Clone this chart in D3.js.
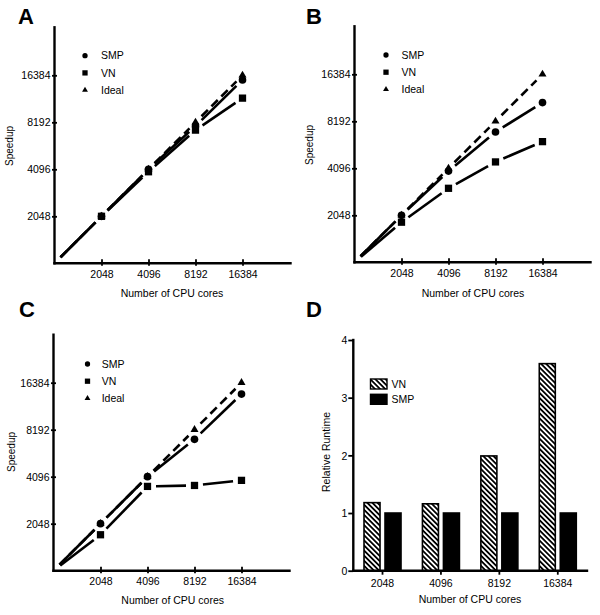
<!DOCTYPE html>
<html>
<head>
<meta charset="utf-8">
<script src="https://cdn.jsdelivr.net/npm/d3@7"></script>
<style>
  html, body { margin: 0; padding: 0; background: #fff; }
  svg { display: block; }
  text { font-family: "Liberation Sans", Arial, sans-serif; fill: #000; }
</style>
</head>
<body>
<svg id="chart" width="600" height="615"></svg>
<script>
// ---------- data ----------
const cores = [1024, 2048, 4096, 8192, 16384];
const tickValues = [2048, 4096, 8192, 16384];
const seriesNames = ["SMP", "VN", "Ideal"];

const idealA = [1024, 2048, 4096, 8192, 16384];
const smpA   = [1024, 2048, 4096, 7750, 15300];
const vnA    = [1024, 2048, 3950, 7300, 11700];

const idealB = [1024, 2048, 4096, 8192, 16384];
const smpB   = [1024, 2048, 3930, 7000, 10800];
const vnB    = [1024, 1850, 3050, 4500, 6070];

const idealC = [1024, 2048, 4096, 8192, 16384];
const smpC   = [1024, 2048, 4096, 7110, 13850];
const vnC    = [1024, 1740, 3550, 3600, 3880];

const barCategories = ["2048", "4096", "8192", "16384"];
const barSeries = ["VN", "SMP"];
const runtimeVN  = [1.18, 1.16, 1.99, 3.59];
const runtimeSMP = [1, 1, 1, 1];
const runtimeTicks = [0, 1, 2, 3, 4];

// ---------- setup ----------
const svg = d3.select("#chart");
const FONT = 10.5;
const defs = svg.append("defs");
const pat = defs.append("pattern")
  .attr("id", "hatch").attr("patternUnits", "userSpaceOnUse")
  .attr("width", 3.6).attr("height", 3.6)
  .attr("patternTransform", "rotate(-45)");
pat.append("rect").attr("width", 3.6).attr("height", 3.6).attr("fill", "#fff");
pat.append("rect").attr("width", 1.8).attr("height", 3.6).attr("fill", "#000");

const symSize = { circle: 46, square: 53, triangle: 28 };
const legSize = { circle: 22, square: 28, triangle: 15 };
const symType = { SMP: d3.symbolCircle, VN: d3.symbolSquare, Ideal: d3.symbolTriangle };
const symKey = { SMP: "circle", VN: "square", Ideal: "triangle" };

const panels = [
  { letter: "A", lx: 18, ly: 24, ox: 54.5, oy: 263.3, data: { SMP: smpA, VN: vnA, Ideal: idealA },
    legX: 85, legTx: 101, legY: 55.7, ylab: [13, 146], xlab: [172, 296.7] },
  { letter: "B", lx: 306, ly: 24, ox: 354.5, oy: 262.3, data: { SMP: smpB, VN: vnB, Ideal: idealB },
    legX: 386, legTx: 401.5, legY: 55, ylab: [313, 145], xlab: [473, 296.7] },
  { letter: "C", lx: 19, ly: 317, ox: 53.5, oy: 570.7, data: { SMP: smpC, VN: vnC, Ideal: idealC },
    legX: 87.5, legTx: 101.7, legY: 364, ylab: [14.5, 452], xlab: [172.7, 604] }
];

const SPAN = 235; // 5 doublings

function shorten(p, q, g1, g2) {
  const dx = q[0] - p[0], dy = q[1] - p[1];
  const L = Math.hypot(dx, dy);
  return [p[0] + dx / L * g1, p[1] + dy / L * g1, q[0] - dx / L * g2, q[1] - dy / L * g2];
}

panels.forEach(P => {
  const x = d3.scaleLog().base(2).domain([1024, 32768]).range([P.ox, P.ox + SPAN]);
  const y = d3.scaleLog().base(2).domain([1024, 32768]).range([P.oy, P.oy - SPAN]);

  // panel letter
  svg.append("text").attr("x", P.lx).attr("y", P.ly)
    .attr("font-size", 22).attr("font-weight", "bold").text(P.letter);

  // axes
  const xa = svg.append("g").attr("transform", `translate(0,${P.oy})`)
    .call(d3.axisBottom(x).tickValues(tickValues).tickFormat(d3.format("d")).tickSizeOuter(0).tickSize(0));
  const ya = svg.append("g").attr("transform", `translate(${P.ox},0)`)
    .call(d3.axisLeft(y).tickValues(tickValues).tickFormat(d3.format("d")).tickSizeOuter(0).tickSize(0));
  [xa, ya].forEach(g => {
    g.select(".domain").attr("stroke", "#000").attr("stroke-width", 2.4).attr("stroke-linecap", "square");
    g.selectAll("text").attr("font-size", FONT).attr("font-family", "Liberation Sans, Arial, sans-serif").attr("fill", "#000");
  });
  xa.select(".domain").attr("d", `M${P.ox},0H${P.ox + SPAN + 1}`);
  ya.select(".domain").attr("d", `M0,${P.oy}V${P.oy - SPAN - 1}`);
  xa.selectAll(".tick line").attr("stroke", "#000").attr("stroke-width", 1.8).attr("y1", -4).attr("y2", 2.5);
  xa.selectAll(".tick text").attr("y", 14.3).attr("dy", 0);
  ya.selectAll(".tick line").attr("stroke", "#000").attr("stroke-width", 1.8).attr("x1", -2.5).attr("x2", 2.5);
  ya.selectAll(".tick text").attr("x", -4).attr("dy", "0.35em");

  // axis titles
  svg.append("text").attr("transform", `translate(${P.ylab[0]},${P.ylab[1]}) rotate(-90)`)
    .attr("text-anchor", "middle").attr("font-size", 10).text("Speedup");
  svg.append("text").attr("x", P.xlab[0]).attr("y", P.xlab[1])
    .attr("text-anchor", "middle").attr("font-size", FONT).text("Number of CPU cores");

  // lines with gaps around symbols
  const G = 8.5;
  ["Ideal", "VN", "SMP"].forEach(name => {
    const vals = P.data[name];
    const pts = cores.map((c, i) => [x(c), y(vals[i])]);
    for (let i = 0; i < pts.length - 1; i++) {
      const s = shorten(pts[i], pts[i + 1], G, G);
      const ln = svg.append("line")
        .attr("x1", s[0]).attr("y1", s[1]).attr("x2", s[2]).attr("y2", s[3])
        .attr("stroke", "#000").attr("stroke-width", 2.6);
      if (name === "Ideal") ln.attr("stroke-dasharray", "9,5");
    }
  });
  // symbols
  ["Ideal", "VN", "SMP"].forEach(name => {
    const vals = P.data[name];
    cores.forEach((c, i) => {
      if (i === 0) return;
      svg.append("path")
        .attr("d", d3.symbol().type(symType[name]).size(symSize[symKey[name]])())
        .attr("transform", `translate(${x(c)},${y(vals[i])})`)
        .attr("fill", "#000");
    });
  });

  // legend
  seriesNames.forEach((name, i) => {
    const yy = P.legY + i * 17.2;
    svg.append("path")
      .attr("d", d3.symbol().type(symType[name]).size(legSize[symKey[name]])())
      .attr("transform", `translate(${P.legX},${yy})`).attr("fill", "#000");
    svg.append("text").attr("x", P.legTx).attr("y", yy).attr("dy", "0.36em")
      .attr("font-size", FONT).text(name);
  });
});

// ---------- panel D ----------
(function () {
  const ox = 353.3, oy = 570.7, right = 587;
  svg.append("text").attr("x", 306).attr("y", 317)
    .attr("font-size", 22).attr("font-weight", "bold").text("D");

  const x0 = d3.scaleBand().domain(barCategories).range([ox, right]).padding(0);
  const x1 = d3.scaleBand().domain(barSeries).range([-18.5, 18.5]).paddingInner(0.238);
  const y = d3.scaleLinear().domain([0, 4]).range([oy, 340]);

  const rows = barCategories.map((c, i) => ({ cat: c, VN: runtimeVN[i], SMP: runtimeSMP[i] }));

  const groups = svg.append("g").selectAll("g").data(rows).join("g")
    .attr("transform", d => `translate(${x0(d.cat) + x0.bandwidth() / 2},0)`);
  groups.selectAll("rect").data(d => barSeries.map(s => ({ s, v: d[s] }))).join("rect")
    .attr("x", d => x1(d.s)).attr("width", x1.bandwidth())
    .attr("y", d => y(d.v)).attr("height", d => y(0) - y(d.v))
    .attr("fill", d => d.s === "VN" ? "url(#hatch)" : "#000")
    .attr("stroke", "#000").attr("stroke-width", 1.6);

  const xa = svg.append("g").attr("transform", `translate(0,${oy})`)
    .call(d3.axisBottom(x0).tickSizeOuter(0).tickSize(4).tickPadding(0));
  const ya = svg.append("g").attr("transform", `translate(${ox},0)`)
    .call(d3.axisLeft(y).tickValues(runtimeTicks).tickFormat(d3.format("d")).tickSizeOuter(0).tickSize(5));
  [xa, ya].forEach(g => {
    g.select(".domain").attr("stroke", "#000").attr("stroke-width", 2.4).attr("stroke-linecap", "square");
    g.selectAll(".tick line").attr("stroke", "#000").attr("stroke-width", 1.8);
    g.selectAll("text").attr("font-size", FONT).attr("font-family", "Liberation Sans, Arial, sans-serif").attr("fill", "#000");
  });
  xa.select(".domain").attr("d", `M${ox},0H${right}`);
  ya.select(".domain").attr("d", `M0,${oy}V340`);
  xa.selectAll(".tick text").attr("y", 16).attr("dy", 0);
  ya.selectAll(".tick text").attr("x", -6).attr("dy", "0.35em");

  svg.append("text").attr("transform", `translate(330,452) rotate(-90)`)
    .attr("text-anchor", "middle").attr("font-size", FONT).text("Relative Runtime");
  svg.append("text").attr("x", 470).attr("y", 603)
    .attr("text-anchor", "middle").attr("font-size", FONT).text("Number of CPU cores");

  // legend
  const legItems = [{ s: "VN", y: 379 }, { s: "SMP", y: 394.3 }];
  legItems.forEach(it => {
    svg.append("rect").attr("x", 370.5).attr("y", it.y).attr("width", 16.5).attr("height", 10)
      .attr("fill", it.s === "VN" ? "url(#hatch)" : "#000").attr("stroke", "#000").attr("stroke-width", 1.4);
    svg.append("text").attr("x", 391.5).attr("y", it.y + 5).attr("dy", "0.36em")
      .attr("font-size", FONT).text(it.s);
  });
})();
</script>
</body>
</html>
